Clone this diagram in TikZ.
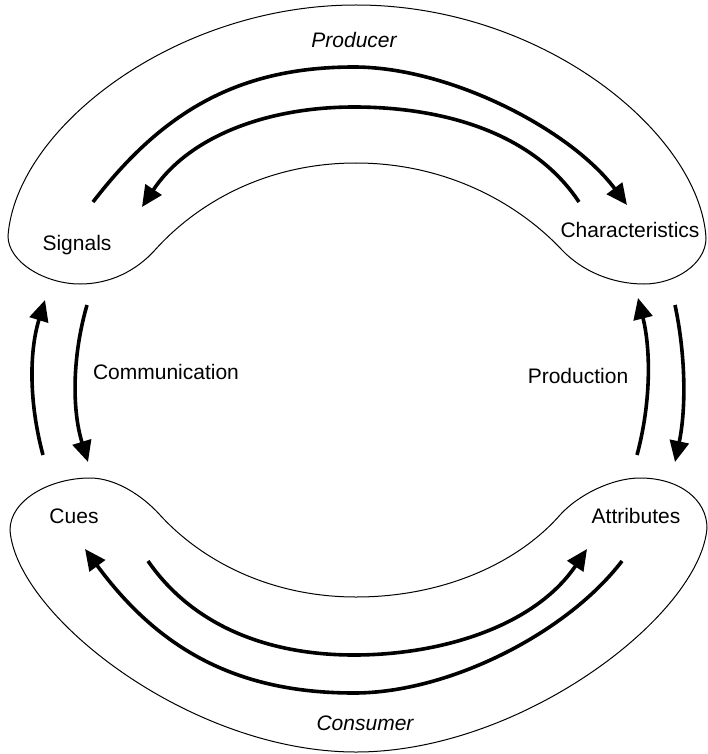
\documentclass[tikz,border=0pt]{standalone}
\usepackage{fontspec}
\setmainfont{Liberation Sans}
\usetikzlibrary{arrows.meta}
\begin{document}
\begin{tikzpicture}[x=1pt,y=-1pt,
  lbl/.style={font=\fontsize{21}{25}\selectfont, inner sep=0pt, anchor=base},
  ital/.style={font=\fontsize{21}{25}\selectfont\itshape, inner sep=0pt, anchor=base},
  band/.style={draw=black, line width=1pt},
  flow/.style={line width=3.6pt, -{Triangle[length=21pt,width=19pt]}}]
\useasboundingbox (0,0) rectangle (708,754);

% top crescent (Producer)
\draw[band] (8,236) .. controls (16,128) and (175,5) .. (356,5)
  .. controls (545,5) and (700,135) .. (706,238)
  .. controls (706,264) and (675,284) .. (644,284)
  .. controls (612,284) and (582,271) .. (562,250)
  .. controls (515,200) and (442,163) .. (356,163)
  .. controls (270,163) and (200,200) .. (155,250)
  .. controls (136,271) and (110,284) .. (80,284)
  .. controls (45,284) and (8,262) .. cycle;

% bottom crescent (Consumer)
\draw[band] (10,530) .. controls (10,500) and (50,478) .. (90,478)
  .. controls (115,478) and (142,495) .. (160,515)
  .. controls (203,562) and (272,597) .. (356,597)
  .. controls (442,597) and (517,564) .. (560,515)
  .. controls (578,495) and (612,478) .. (640,478)
  .. controls (680,478) and (707,500) .. (707,528)
  .. controls (700,615) and (522,752) .. (356,752)
  .. controls (190,752) and (16,615) .. cycle;

% labels
\node[lbl] (signals) at (77,250) {Signals};
\node[lbl] (chars) at (630,237) {Characteristics};
\node[lbl] (cues) at (74,523) {Cues};
\node[lbl] (attr) at (636,523) {Attributes};
\node[lbl] (comm) at (166,379) {Communication};
\node[lbl] (prod) at (578,383) {Production};
\node[ital] (producer) at (354,48) {Producer};
\node[ital] (consumer) at (365,730) {Consumer};

% arrow end points
\coordinate (toA) at (93,202);  \coordinate (toM) at (354,67);  \coordinate (toB) at (627,205);
\coordinate (tiA) at (579,202); \coordinate (tiM) at (354,107); \coordinate (tiB) at (142,207);
\coordinate (biA) at (148,561); \coordinate (biM) at (354,655); \coordinate (biB) at (587,549);
\coordinate (boA) at (622,561); \coordinate (boM) at (354,693); \coordinate (boB) at (85,549);
\coordinate (luA) at (43,455);  \coordinate (luB) at (45,300);
\coordinate (ldA) at (87,305);  \coordinate (ldB) at (88,462);
\coordinate (ruA) at (637,455); \coordinate (ruB) at (638,298);
\coordinate (rdA) at (675,305); \coordinate (rdB) at (675,462);

% producer arrows
\draw[flow] (toA) .. controls (163,111) and (239,67) .. (toM)
                  .. controls (449,67) and (570,129) .. (toB);
\draw[flow] (tiA) .. controls (532,131) and (440,107) .. (tiM)
                  .. controls (268,107) and (189,136) .. (tiB);
% consumer arrows
\draw[flow] (biA) .. controls (193,626) and (268,655) .. (biM)
                  .. controls (440,655) and (534,627) .. (biB);
\draw[flow] (boA) .. controls (567,633) and (449,693) .. (boM)
                  .. controls (239,693) and (160,651) .. (boB);
% communication arrows
\draw[flow] (luA) .. controls (29,403) and (29,352) .. (luB);
\draw[flow] (ldA) .. controls (72,357) and (72,410) .. (ldB);
% production arrows
\draw[flow] (ruA) .. controls (651,403) and (651,350) .. (ruB);
\draw[flow] (rdA) .. controls (686,357) and (686,410) .. (rdB);
\end{tikzpicture}
\end{document}
